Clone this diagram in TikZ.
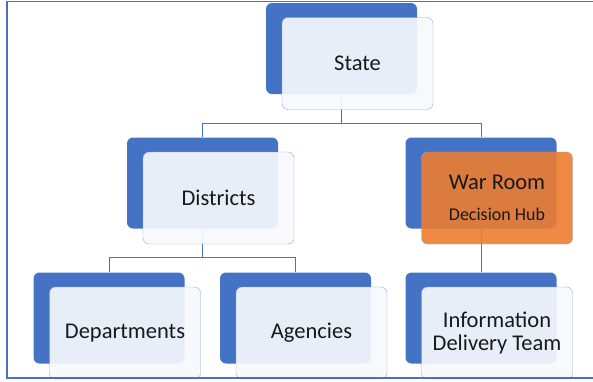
\documentclass[tikz,border=0pt]{standalone}
\usepackage{fontspec}
\setmainfont{Carlito}
\usepackage{tikz}
\usetikzlibrary{positioning}
\definecolor{tileblue}{HTML}{4472C4}
\definecolor{tileedge}{HTML}{8FAADC}
\definecolor{tilelight}{HTML}{F7F9FD}
\definecolor{tileorange}{HTML}{ED7D31}

\begin{document}
\begin{tikzpicture}[x=1pt,y=-1pt]
      \tikzstyle{back} = [rectangle, rounded corners=6pt, fill=tileblue, minimum width=151pt, minimum height=91pt, inner sep=0pt]
      \tikzstyle{card} = [rectangle, rounded corners=6pt, draw=tileedge, fill=tilelight, fill opacity=0.92, text opacity=1, text=black!90, minimum width=151pt, minimum height=92pt, inner sep=0pt, align=center, font=\fontsize{22.5}{23}\selectfont]
      \tikzstyle{hot} = [card, fill=tileorange, fill opacity=0.9]
      \tikzstyle{link} = [draw=tileblue, line width=0.8pt]
      \useasboundingbox (0,0) rectangle (593,381);
      % shadow tiles
      \node (stateb) [back] at (341.5,48.5) {};
      \node (distb) [back] at (202.5,183) {};
      \node (warb) [back] at (481,183) {};
      \node (deptb) [back] at (109,318) {};
      \node (agenb) [back] at (295.5,318) {};
      \node (infob) [back] at (481,318) {};
      % connectors
      \draw [link] (stateb.south) -- ++(0,29) -| (distb.north);
      \draw [link] (stateb.south) -- ++(0,29) -| (warb.north);
      \draw [link] (distb.south) -- ++(0,29) -| (deptb.north);
      \draw [link] (distb.south) -- ++(0,29) -| (agenb.north);
      \draw [link] (warb.south) -- (infob.north);
      % front tiles
      \node (state) [card] at (357.5,63.5) {State};
      \node (dist) [card] at (218.5,198) {Districts};
      \node (war) [hot] at (497,198) {War Room\\[8pt]{\fontsize{18}{22}\selectfont Decision Hub}};
      \node (dept) [card] at (125,333) {Departments};
      \node (agen) [card] at (311.5,333) {Agencies};
      \node (info) [card] at (497,333) {Information\\Delivery Team};
      % frame
      \draw [tileblue, line width=1.5pt] (593,1.5) -- (7,1.5) -- (7,378) -- (593,378);
\end{tikzpicture}
\end{document}
